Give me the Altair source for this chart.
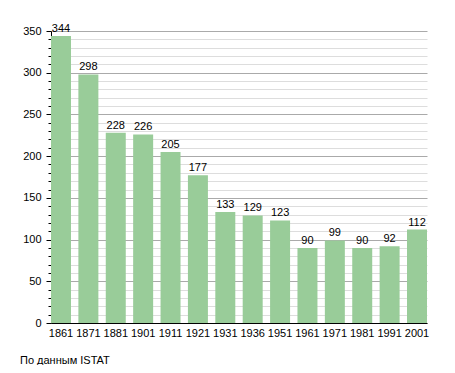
import altair as alt
import pandas as pd

years = ["1861", "1871", "1881", "1901", "1911", "1921", "1931", "1936", "1951", "1961", "1971", "1981", "1991", "2001"]
population = [344, 298, 228, 226, 205, 177, 133, 129, 123, 90, 99, 90, 92, 112]
tick_values = list(range(0, 351, 10))

df = pd.DataFrame({"year": years, "pop": population})

FONT = "Liberation Sans"

x = alt.X("year:N", sort=None, title=None,
          scale=alt.Scale(paddingInner=0.27, paddingOuter=0.0),
          axis=alt.Axis(labelAngle=0, ticks=False, domainColor="#000", labelColor="#000",
                        labelFont=FONT, labelFontSize=11, labelPadding=4, grid=False))
y = alt.Y("pop:Q", title=None,
          scale=alt.Scale(domain=[0, 350], nice=False),
          axis=alt.Axis(values=tick_values,
                        labelExpr="datum.value % 50 === 0 ? datum.label : ''",
                        labelOverlap=False,
                        tickSize={"condition": {"test": "datum.value % 50 === 0", "value": 5}, "value": 3},
                        gridColor={"condition": {"test": "datum.value % 50 === 0", "value": "#aaaaaa"}, "value": "#dddddd"},
                        tickColor="#000", domainColor="#000", labelColor="#000",
                        labelFont=FONT, labelFontSize=11, labelPadding=5, grid=True))

bars = alt.Chart(df).mark_bar(color="#99cc99").encode(x=x, y=y)
labels = alt.Chart(df).mark_text(baseline="bottom", dy=-2, font=FONT, fontSize=11, color="#000").encode(
    x=x, y=y, text="pop:Q")

chart = (bars + labels).properties(
    width=376, height=292,
    autosize=alt.AutoSizeParams(type="none"),
    padding={"left": 43, "top": 23, "right": 18, "bottom": 42},
    title=alt.TitleParams("По данным  ISTAT", orient="bottom", anchor="start", frame="group", dx=-31, offset=17,
                          font=FONT, fontSize=11, fontWeight="normal", color="#000"),
).configure_view(stroke=None)

chart.save("out.html", embed_options={"renderer": "svg", "actions": False})
